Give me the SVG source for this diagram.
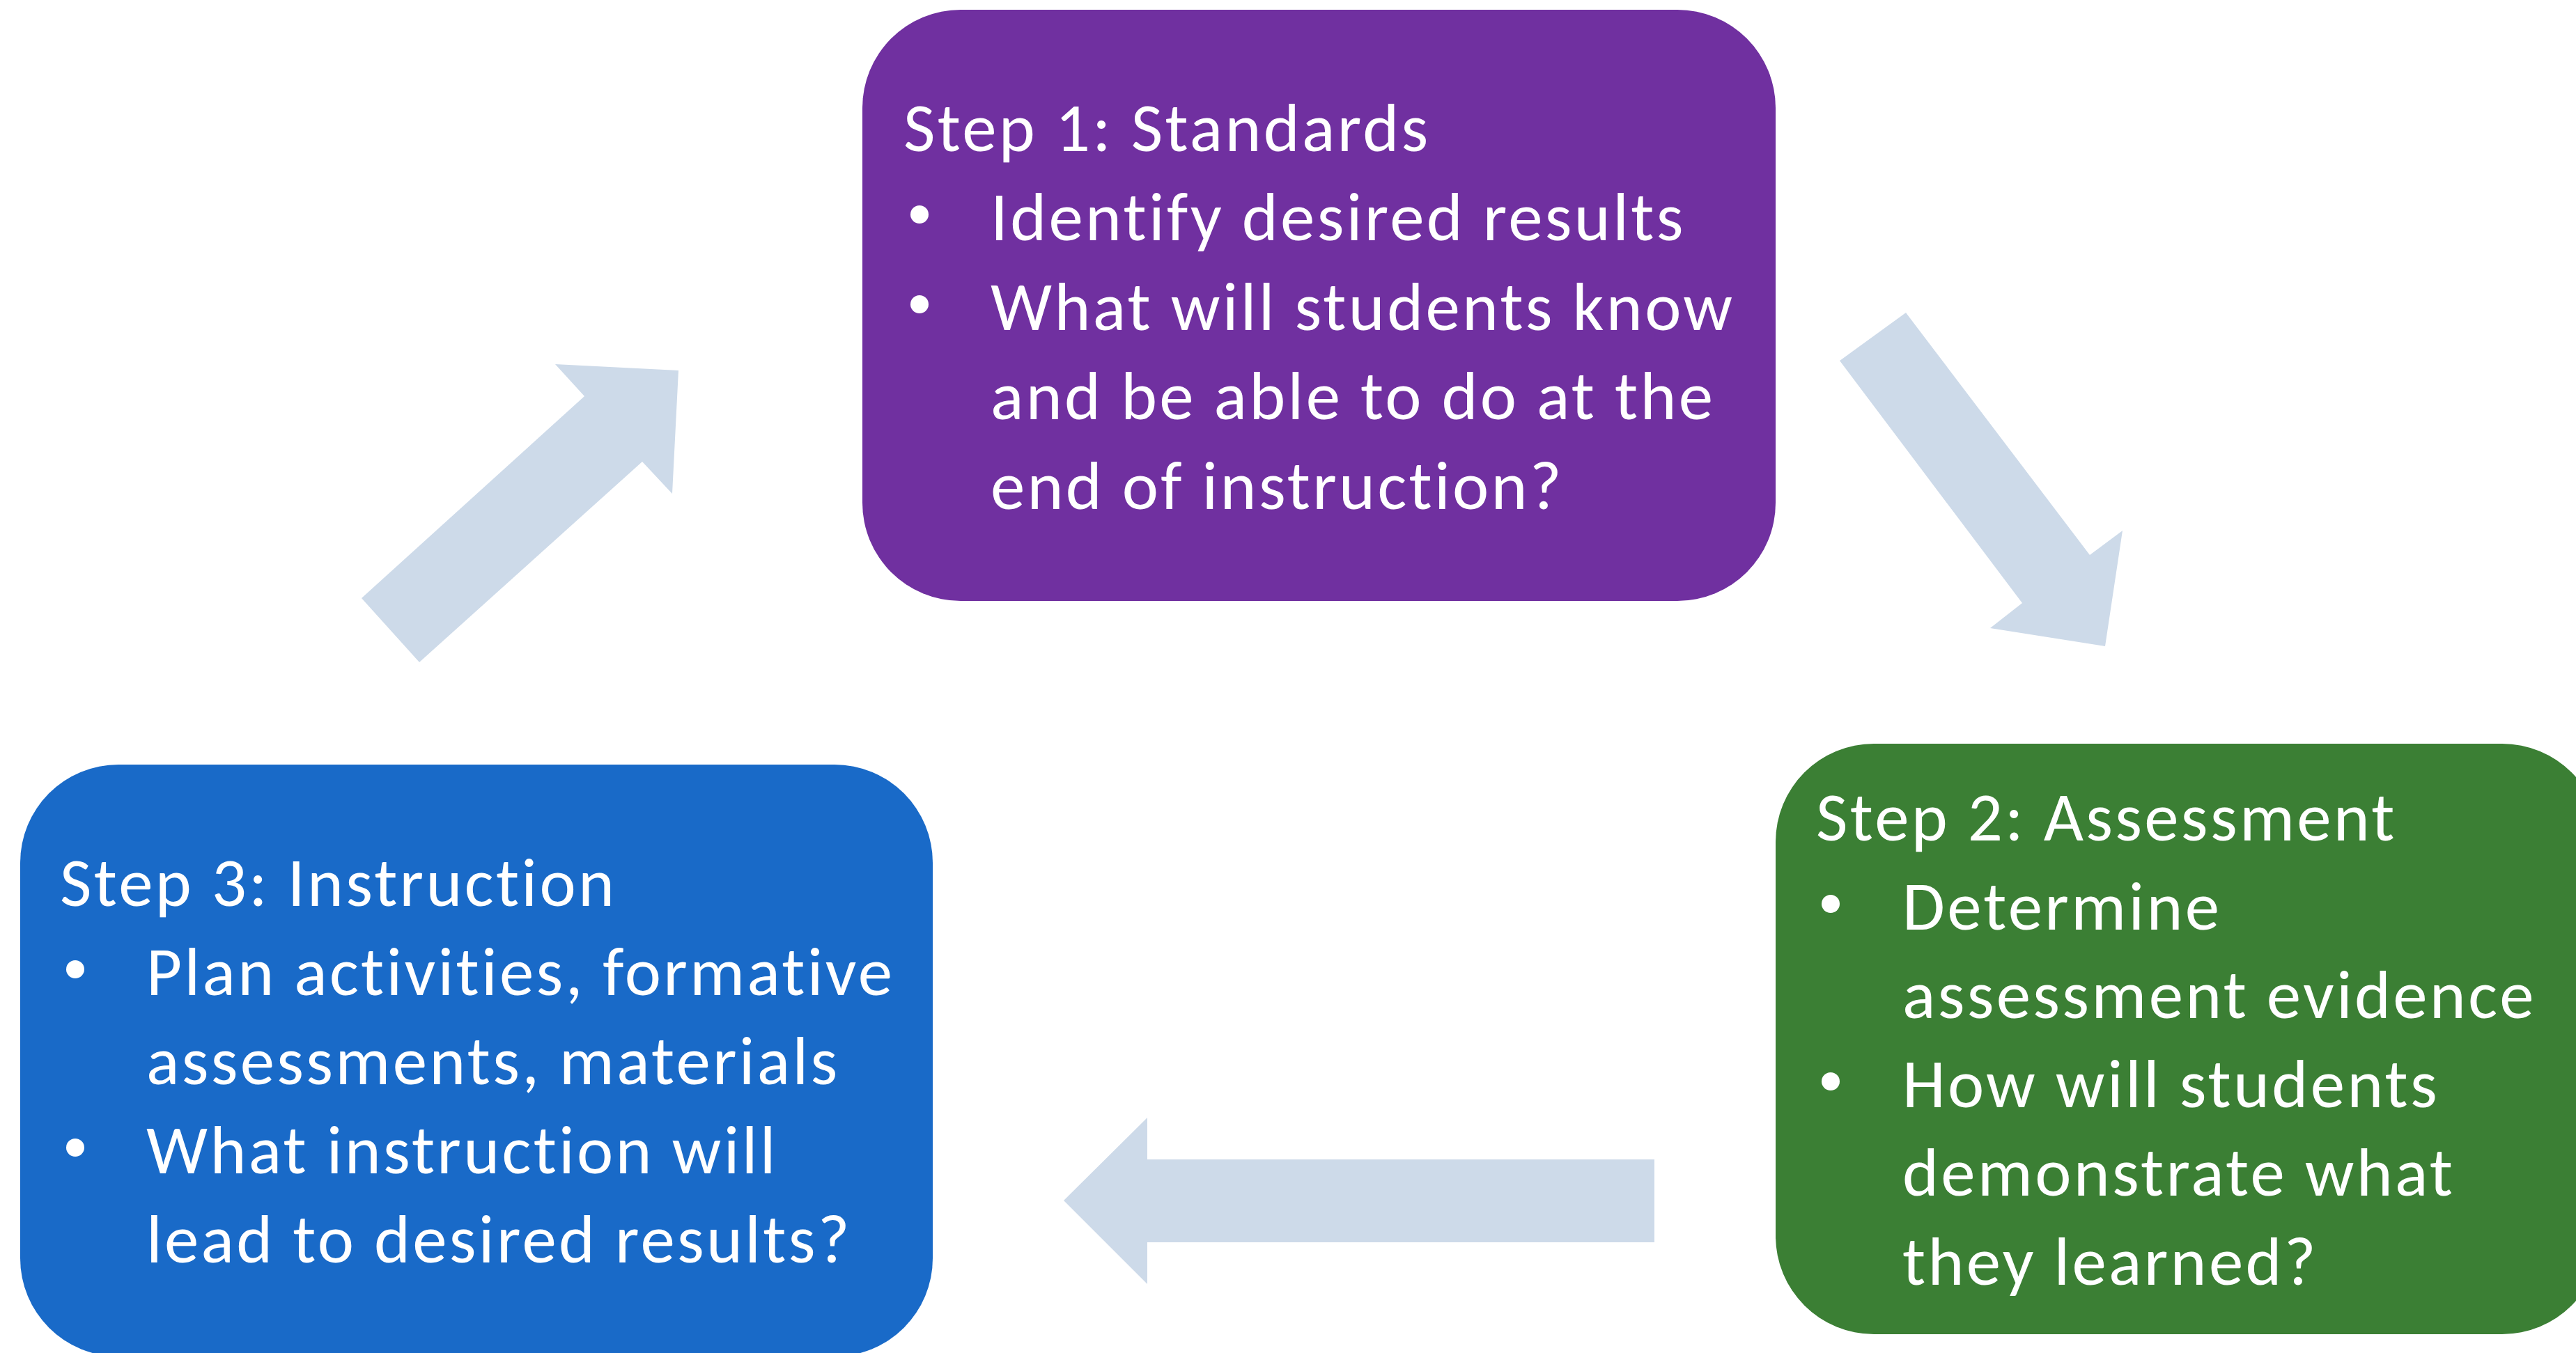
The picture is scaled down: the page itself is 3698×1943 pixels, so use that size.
<svg xmlns="http://www.w3.org/2000/svg" width="3698" height="1943" viewBox="0 0 3698 1943">
  <style>
    .card text { font-family: Carlito, Lato, "Liberation Sans", sans-serif; font-size: 99px; letter-spacing: 3.3px; font-variant-ligatures: none; fill: #ffffff; }
    .card .dot { fill: #ffffff; }
    .flow { fill: #CDDAE9; }
  </style>
  <rect width="3698" height="1943" fill="#ffffff"/>

  <!-- block arrows between the steps -->
  <g id="connectors">
    <polygon class="flow" points="519,859 839,569 797,523 974,532 965,709 922,663 602,951"/>
    <polygon class="flow" points="2736,449 3000,797 3047,762 3022,928 2857,902 2903,866 2641,518"/>
    <polygon class="flow" points="1527,1724 1647,1605 1647,1665 2375,1665 2375,1784 1647,1784 1647,1844"/>
  </g>

  <!-- Step 1 -->
  <g id="step1" class="card">
    <rect x="1238" y="14" width="1311" height="849" rx="141" ry="141" fill="#7030A0"/>
    <text x="1297" y="217">Step 1: Standards</text>
    <circle class="dot" cx="1320" cy="308" r="13"/>
    <text x="1422" y="345">Identify desired results</text>
    <circle class="dot" cx="1320" cy="437" r="13"/>
    <text x="1422" y="474">What will students know</text>
    <text x="1422" y="602">and be able to do at the</text>
    <text x="1422" y="731">end of instruction?</text>
  </g>

  <!-- Step 2 -->
  <g id="step2" class="card">
    <rect x="2549" y="1068" width="1184" height="848" rx="141" ry="141" fill="#3B7F34"/>
    <text x="2607" y="1207">Step 2: Assessment</text>
    <circle class="dot" cx="2628" cy="1298" r="13"/>
    <text x="2731" y="1335">Determine</text>
    <text x="2731" y="1462">assessment evidence</text>
    <circle class="dot" cx="2628" cy="1553" r="13"/>
    <text x="2731" y="1590">How will students</text>
    <text x="2731" y="1717">demonstrate what</text>
    <text x="2731" y="1845">they learned?</text>
  </g>

  <!-- Step 3 -->
  <g id="step3" class="card">
    <rect x="29" y="1098" width="1310" height="850" rx="141" ry="141" fill="#196AC8"/>
    <text x="86" y="1301">Step 3: Instruction</text>
    <circle class="dot" cx="108" cy="1392" r="13"/>
    <text x="210" y="1429">Plan activities, formative</text>
    <text x="210" y="1557">assessments, materials</text>
    <circle class="dot" cx="108" cy="1648" r="13"/>
    <text x="210" y="1685">What instruction will</text>
    <text x="210" y="1813">lead to desired results?</text>
  </g>
</svg>
